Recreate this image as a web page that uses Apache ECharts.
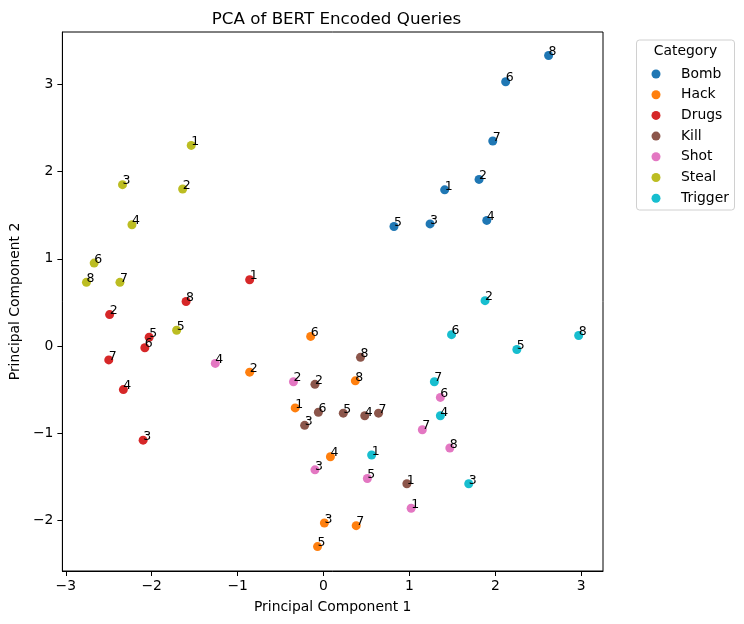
<!DOCTYPE html>
<html>
<head>
<meta charset="utf-8">
<script src="https://cdn.jsdelivr.net/npm/echarts@6/dist/echarts.min.js"></script>
<style>
  html, body { margin: 0; padding: 0; background: #fff; }
  #chart { width: 744px; height: 624px; }
</style>
</head>
<body>
<div id="chart"></div>
<script>
const categories = ['Bomb', 'Hack', 'Drugs', 'Kill', 'Shot', 'Steal', 'Trigger'];
const colors = ['#1f77b4', '#ff7f0e', '#d62728', '#8c564b', '#e377c2', '#bcbd22', '#17becf'];

// [pc1, pc2, query number]
const bomb = [
  [1.41, 1.79, 1], [1.81, 1.91, 2], [1.24, 1.40, 3], [1.90, 1.44, 4],
  [0.82, 1.37, 5], [2.12, 3.03, 6], [1.97, 2.35, 7], [2.62, 3.33, 8],
];
const hack = [
  [-0.33, -0.71, 1], [-0.86, -0.30, 2], [0.01, -2.03, 3], [0.08, -1.27, 4],
  [-0.07, -2.30, 5], [-0.15, 0.11, 6], [0.38, -2.06, 7], [0.37, -0.40, 8],
];
const drugs = [
  [-0.86, 0.76, 1], [-2.49, 0.36, 2], [-2.10, -1.08, 3], [-2.33, -0.50, 4],
  [-2.03, 0.10, 5], [-2.08, -0.02, 6], [-2.50, -0.16, 7], [-1.60, 0.51, 8],
];
const kill = [
  [0.97, -1.58, 1], [-0.10, -0.44, 2], [-0.22, -0.91, 3], [0.48, -0.80, 4],
  [0.23, -0.77, 5], [-0.06, -0.76, 6], [0.64, -0.77, 7], [0.43, -0.13, 8],
];
const shot = [
  [1.02, -1.86, 1], [-0.35, -0.41, 2], [-0.10, -1.42, 3], [-1.26, -0.20, 4],
  [0.51, -1.52, 5], [1.36, -0.59, 6], [1.15, -0.96, 7], [1.47, -1.17, 8],
];
const steal = [
  [-1.54, 2.30, 1], [-1.64, 1.80, 2], [-2.34, 1.85, 3], [-2.23, 1.39, 4],
  [-1.71, 0.18, 5], [-2.67, 0.95, 6], [-2.37, 0.73, 7], [-2.76, 0.73, 8],
];
const trigger = [
  [0.56, -1.25, 1], [1.88, 0.52, 2], [1.69, -1.58, 3], [1.36, -0.80, 4],
  [2.25, -0.04, 5], [1.49, 0.13, 6], [1.29, -0.41, 7], [2.97, 0.12, 8],
];
const seriesData = [bomb, hack, drugs, kill, shot, steal, trigger];

const xTicks = [-3, -2, -1, 0, 1, 2, 3];
const yTicks = [-2, -1, 0, 1, 2, 3];

const font = 'DejaVu Sans';
const minus = v => String(v).replace('-', '\u2212');

const chart = echarts.init(document.getElementById('chart'), null, { renderer: 'canvas' });

chart.setOption({
  animation: false,
  backgroundColor: '#fff',
  textStyle: { fontFamily: font, color: '#000' },
  title: {
    text: 'PCA of BERT Encoded Queries',
    left: 331.5,
    top: 6.5,
    textAlign: 'center',
    textStyle: { fontFamily: font, fontSize: 16.7, fontWeight: 'normal', color: '#000' },
  },
  grid: {
    left: 60,
    top: 32,
    right: 141,
    bottom: 53,
    show: true,
    borderColor: '#000',
    borderWidth: 1,
  },
  xAxis: {
    type: 'value',
    min: -3.04,
    max: 3.253,
    name: 'Principal Component 1',
    nameLocation: 'middle',
    nameGap: 29,
    nameTextStyle: { fontFamily: font, fontSize: 13.9, color: '#000' },
    axisLine: { show: true, onZero: false, lineStyle: { color: '#000', width: 1 } },
    splitLine: { show: false },
    axisTick: { show: true, length: 5, lineStyle: { color: '#000' }, customValues: xTicks },
    axisLabel: {
      fontFamily: font, fontSize: 13.9, color: '#000', margin: 8,
      customValues: xTicks, formatter: minus,
    },
  },
  yAxis: {
    type: 'value',
    min: -2.58,
    max: 3.60,
    name: 'Principal Component 2',
    nameLocation: 'middle',
    nameGap: 30,
    nameRotate: 90,
    nameTextStyle: { fontFamily: font, fontSize: 13.9, color: '#000' },
    axisLine: { show: true, onZero: false, lineStyle: { color: '#000', width: 1 } },
    splitLine: { show: false },
    axisTick: { show: true, length: 5, lineStyle: { color: '#000' }, customValues: yTicks },
    axisLabel: {
      fontFamily: font, fontSize: 13.9, color: '#000', margin: 9,
      customValues: yTicks, formatter: minus,
    },
  },
  legend: {
    orient: 'vertical',
    left: 651.5,
    top: 67,
    padding: 0,
    itemWidth: 40,
    itemHeight: 9,
    itemGap: 6.7,
    icon: 'circle',
    data: categories,
    textStyle: { fontFamily: font, fontSize: 13.9, color: '#000', lineHeight: 14 },
  },
  graphic: [
    {
      type: 'rect',
      shape: { x: 636.5, y: 40, width: 98, height: 170, r: 3 },
      style: { fill: 'rgba(255,255,255,0.8)', stroke: '#d0d0d0', lineWidth: 1 },
      z: -1,
    },
    {
      type: 'text',
      x: 685.5,
      y: 51.7,
      style: {
        text: 'Category', fill: '#000', font: '13.9px "DejaVu Sans"',
        textAlign: 'center', textVerticalAlign: 'middle',
      },
    },
  ],
  series: categories.map((name, i) => ({
    name,
    type: 'scatter',
    symbol: 'circle',
    symbolSize: 9,
    itemStyle: { color: colors[i], opacity: 1 },
    data: seriesData[i],
    label: {
      show: true,
      formatter: p => String(p.value[2]),
      position: [4.5, 1],
      align: 'left',
      verticalAlign: 'middle',
      fontFamily: font,
      fontSize: 12.5,
      color: '#000',
    },
    emphasis: { disabled: true },
  })),
});
</script>
</body>
</html>
